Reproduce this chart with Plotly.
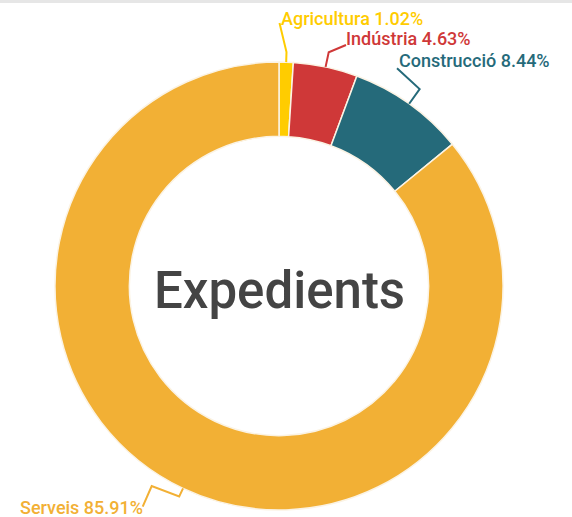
import math
import plotly.graph_objects as go

# ---- data ----
sectors = ["Agricultura", "Indústria", "Construcció", "Serveis"]
shares = [1.02, 4.63, 8.44, 85.91]
colors = ["#FFCC00", "#CF3838", "#256A7A", "#F2B035"]
center_label = "Expedients"

# ---- layout constants (pixels) ----
W, H = 572, 517
CX, CY, R = 279, 286, 224
HOLE = 0.668
FONT = "Roboto"
LABEL_SIZE = 18
PAD = 3  # annotation inner padding compensation

# label placement: text anchor (x, baseline y), side, first radial leg length, extra knee points
label_layout = {
    "Agricultura": dict(tx=282, ty=25, side="left", leg=10, knees=[(279.5, 23)]),
    "Indústria": dict(tx=347, ty=45, side="left", leg=15, knees=[(346, 45)]),
    "Construcció": dict(tx=400, ty=66.7, side="left", leg=18, knees=[(397, 68.3)]),
    "Serveis": dict(tx=141.7, ty=514.5, side="right", leg=9, knees=[(151.7, 486), (142.7, 506.7)]),
}


def px(x):
    return x / W


def py(y):
    return 1 - y / H


fig = go.Figure(
    go.Pie(
        labels=sectors,
        values=shares,
        hole=HOLE,
        sort=False,
        direction="clockwise",
        rotation=0,
        textinfo="none",
        marker=dict(colors=colors, line=dict(color="#FBF3E4", width=1.5)),
        domain=dict(x=[px(CX - R), px(CX + R)], y=[py(CY + R), py(CY - R)]),
        showlegend=False,
        hoverinfo="label+percent",
    )
)

shapes = [
    dict(type="rect", xref="paper", yref="paper", x0=0, x1=1, y0=py(3), y1=1,
         fillcolor="#E6E6E6", line=dict(width=0), layer="below")
]
annotations = [
    dict(text=center_label, x=px(CX), y=py(290), xref="paper", yref="paper",
         showarrow=False, font=dict(family=FONT, size=51, color="#444444", weight=500),
         xanchor="center", yanchor="middle")
]

total = sum(shares)
cum = 0.0
for name, val, col in zip(sectors, shares, colors):
    mid = (cum + val / 2) / total * 2 * math.pi
    cum += val
    lay = label_layout[name]
    sx, sy = math.sin(mid), -math.cos(mid)
    p0 = (CX + R * sx, CY + R * sy)
    p1 = (CX + (R + lay["leg"]) * sx, CY + (R + lay["leg"]) * sy)
    pts = [p0, p1] + lay["knees"]
    path = "M " + " L ".join(f"{px(x):.5f},{py(y):.5f}" for x, y in pts)
    shapes.append(dict(type="path", xref="paper", yref="paper", path=path,
                       line=dict(color=col, width=2)))
    pct = val / total * 100
    ax = lay["tx"] - PAD if lay["side"] == "left" else lay["tx"] + PAD
    annotations.append(dict(
        text=f"{name} {pct:.2f}%", x=px(ax), y=py(lay["ty"] - 6.5),
        xref="paper", yref="paper", showarrow=False,
        xanchor=lay["side"], yanchor="middle",
        font=dict(family=FONT, size=LABEL_SIZE, color=col, weight=500),
    ))

fig.update_layout(
    width=W, height=H,
    margin=dict(l=0, r=0, t=0, b=0),
    paper_bgcolor="white",
    plot_bgcolor="white",
    shapes=shapes,
    annotations=annotations,
)

fig.write_html("out.html", config={"displayModeBar": False},
               post_script="document.body.style.margin='0px';")
